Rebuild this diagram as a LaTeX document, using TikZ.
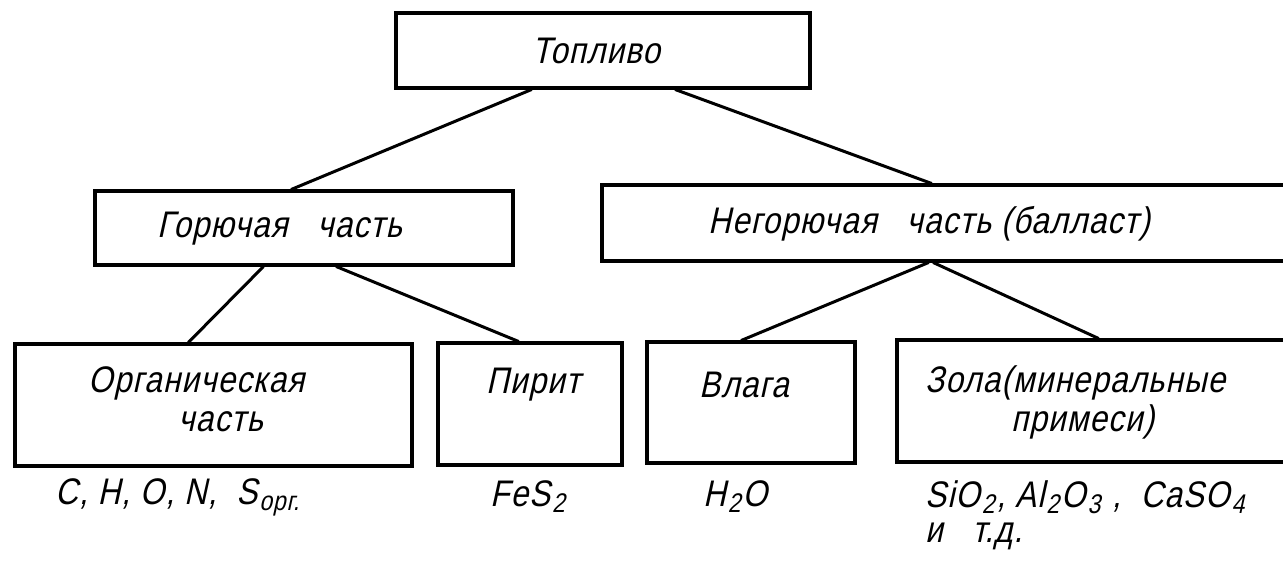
\documentclass[tikz,border=0pt]{standalone}
\usepackage{fontspec}
\usetikzlibrary{calc}
% narrow slanted sans, close to a drafting lettering
\newfontfamily\gost{Liberation Sans}[FakeSlant=0.22, FakeStretch=0.85, LetterSpace=3]
\newcommand{\lowidx}[1]{\kern2pt\raisebox{-0.3ex}{\fontsize{27}{30}\selectfont #1}\kern2pt}
\tikzset{
  box/.style={draw, line width=3.2pt, rectangle, inner sep=0pt},
  lbl/.style={inner sep=0pt, anchor=west, font=\gost\fontsize{37}{42}\selectfont},
  link/.style={line width=3pt, line cap=round}
}
\begin{document}
\begin{tikzpicture}[x=1pt, y=-1pt]
\useasboundingbox (0,0) rectangle (1283,561);
\clip (0,0) rectangle (1283,561);

% boxes
\node[box, minimum width=414pt, minimum height=75pt]  (fuel)  at (603,50.5) {};
\node[box, minimum width=418pt, minimum height=74pt]  (comb)  at (304,228) {};
\node[box, minimum width=698pt, minimum height=76pt]  (ncomb) at (951,223) {};
\node[box, minimum width=397pt, minimum height=122pt] (org)   at (213.5,405) {};
\node[box, minimum width=184pt, minimum height=122pt] (pyr)   at (530,404) {};
\node[box, minimum width=208pt, minimum height=121pt] (moist) at (751,402.5) {};
\node[box, minimum width=403pt, minimum height=122pt] (ash)   at (1098.5,401) {};

% texts inside the boxes
\node[lbl] (tfuel)  at (532,51)  {Топливо};
\node[lbl] (tcomb)  at (157,229) {Горючая\ \ \ часть};
\node[lbl] (tncomb) at (708,224) {Негорючая\ \ \ часть (балласт)};
\node[lbl] (torg1)  at (88,383)  {Органическая};
\node[lbl] (torg2)  at (178,422) {часть};
\node[lbl] (tpyr)   at (486,385) {Пирит};
\node[lbl] (tmoist) at (699,385) {Влага};
\node[lbl] (tash1)  at (925,383) {Зола(минеральные};
\node[lbl] (tash2)  at (1011,422) {примеси)};

% compositions under the boxes
\node[lbl] (corg)   at (55,497)  {C, H, O, N,\ \ S\lowidx{орг.}};
\node[lbl] (cpyr)   at (490,497) {FeS\lowidx{2}};
\node[lbl] (cmoist) at (703,497) {H\lowidx{2}O};
\node[lbl] (cash1)  at (925,497) {SiO\lowidx{2}, Al\lowidx{2}O\lowidx{3}\ ,\ \ CaSO\lowidx{4}};
\node[lbl] (cash2)  at (925,536) {и\ \ \ т.д.};

% tree links
\draw[link] ($(fuel.south west)+(137,0)$)  -- ($(comb.north west)+(198,0)$);
\draw[link] ($(fuel.south west)+(281,0)$)  -- ($(ncomb.north west)+(331,0)$);
\draw[link] ($(comb.south west)+(170,0)$)  -- ($(org.north west)+(175,0)$);
\draw[link] ($(comb.south west)+(243,0)$)  -- ($(pyr.north west)+(82,0)$);
\draw[link] ($(ncomb.south west)+(328,0)$) -- ($(moist.north west)+(96,0)$);
\draw[link] ($(ncomb.south west)+(333,0)$) -- ($(ash.north west)+(203,0)$);
\end{tikzpicture}
\end{document}
